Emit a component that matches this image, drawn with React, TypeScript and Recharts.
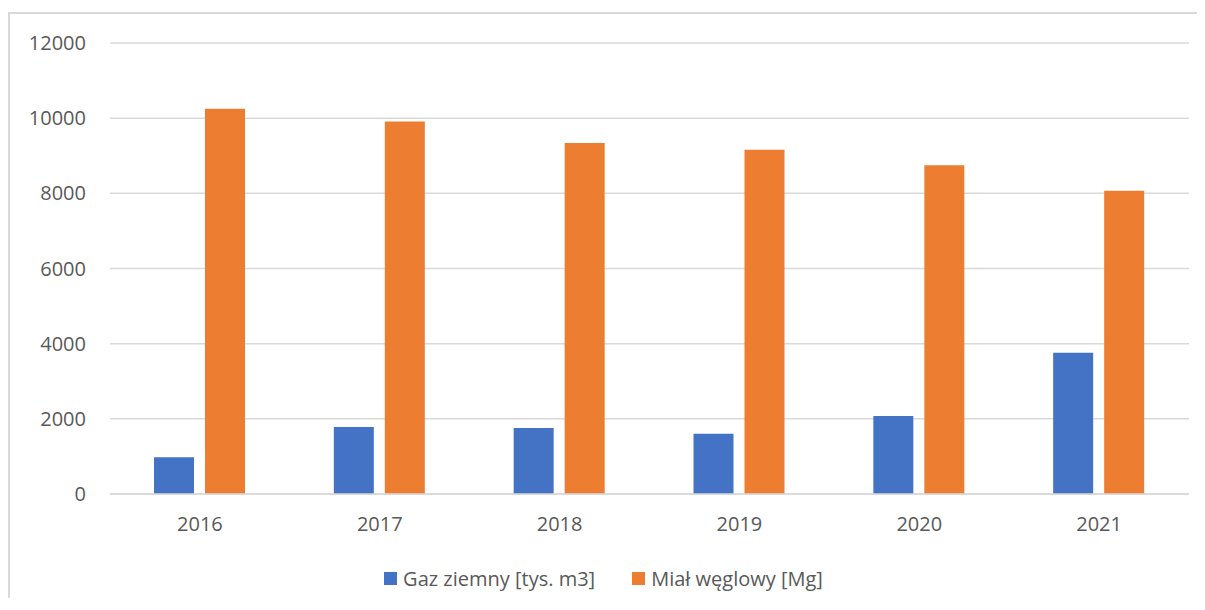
import { BarChart, Bar, XAxis, YAxis, CartesianGrid, Legend } from "recharts";

const BLUE = "#4472C4";
const ORANGE = "#ED7D31";
const TEXT = "#595959";
const GRID = "#D9D9D9";
const FONT = "'Open Sans', 'Noto Sans', sans-serif";

const years = ["2016", "2017", "2018", "2019", "2020", "2021"];
const gas = [980, 1780, 1755, 1605, 2075, 3755];
const coal = [10250, 9910, 9340, 9160, 8750, 8070];
const yTicks = [0, 2000, 4000, 6000, 8000, 10000, 12000];

const series = [
  { key: "gas", name: "Gaz ziemny [tys. m3]", color: BLUE },
  { key: "coal", name: "Miał węglowy [Mg]", color: ORANGE },
];

const data = years.map((year, i) => ({ year, gas: gas[i], coal: coal[i] }));

const W = 1187;
const H = 588;

function LegendRow() {
  return (
    <div style={{ display: "flex", justifyContent: "center", alignItems: "center", height: 24, gap: 37 }}>
      {series.map((s) => (
        <div key={s.key} style={{ display: "flex", alignItems: "center", gap: 6 }}>
          <span style={{ width: 13, height: 13, background: s.color, display: "inline-block" }} />
          <span style={{ fontFamily: FONT, fontSize: 20, color: TEXT, whiteSpace: "nowrap" }}>{s.name}</span>
        </div>
      ))}
    </div>
  );
}

export default function App() {
  return (
    <>
      <style>{`html, body { overflow: hidden; }`}</style>
      <div
        style={{
          position: "relative",
          top: 4,
          width: W + 20,
          height: H,
          borderTop: `2px solid ${GRID}`,
          borderLeft: `2px solid ${GRID}`,
          background: "#fff",
        }}
      >
        <BarChart width={W} height={H} data={data} margin={{ top: 29, right: 8, left: 0, bottom: 12 }} barGap={11}>
          <CartesianGrid vertical={false} stroke={GRID} strokeWidth={1.5} />
          <XAxis
            dataKey="year"
            height={72}
            axisLine={{ stroke: GRID, strokeWidth: 1.5 }}
            tickLine={false}
            tickSize={0}
            tickMargin={23}
            tick={{ fill: TEXT, fontSize: 20, fontFamily: FONT }}
          />
          <YAxis
            width={100}
            domain={[0, 12000]}
            ticks={yTicks}
            axisLine={false}
            tickLine={false}
            tickSize={0}
            tickMargin={24}
            tick={{ fill: TEXT, fontSize: 20, fontFamily: FONT }}
          />
          <Legend verticalAlign="bottom" wrapperStyle={{ left: 0, width: W }} content={() => <LegendRow />} />
          {series.map((s) => (
            <Bar key={s.key} dataKey={s.key} name={s.name} fill={s.color} barSize={40} isAnimationActive={false} />
          ))}
        </BarChart>
      </div>
    </>
  );
}
